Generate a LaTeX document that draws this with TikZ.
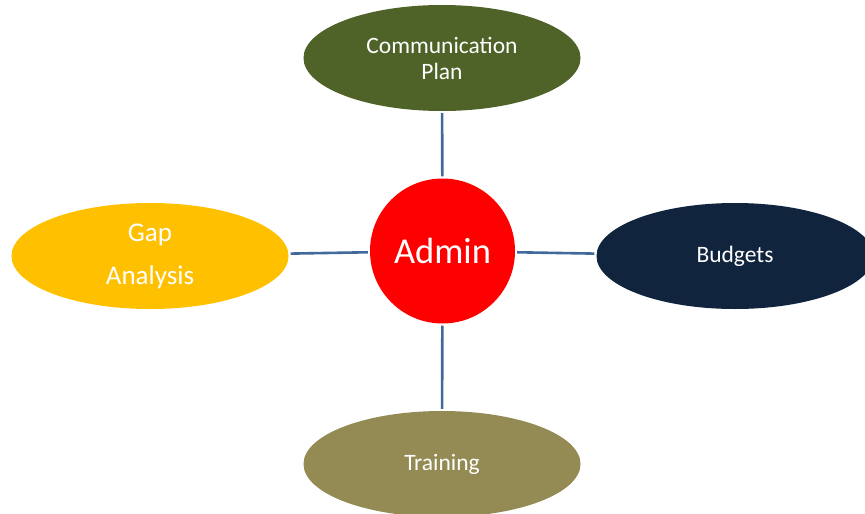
\documentclass[tikz,border=0pt]{standalone}
\usepackage{fontspec}
\setmainfont{Carlito}
\usetikzlibrary{shapes.geometric}
\definecolor{olivetop}{HTML}{4F6228}
\definecolor{gold}{HTML}{FFC000}
\definecolor{navy}{HTML}{10243E}
\definecolor{khaki}{HTML}{948A54}
\definecolor{linkblue}{HTML}{41699C}
\tikzset{
  bubble/.style={ellipse, inner sep=0pt, minimum width=277pt, minimum height=106pt,
    text=white, align=center, font=\fontsize{23.5}{26}\selectfont},
  hub/.style={circle, fill=red, inner sep=0pt, minimum size=145pt, text=white,
    font=\fontsize{36.5}{40}\selectfont},
  link/.style={draw=linkblue, line width=2.6pt, shorten >=2pt, shorten <=2pt}
}
\begin{document}
\begin{tikzpicture}[x=1pt,y=-1pt]
\useasboundingbox (0,0) rectangle (865,514);
\node[hub] (admin) at (442.5,251) {Admin};
\node[bubble, fill=olivetop] (comm) at (442,58) {Communication\\Plan};
\node[bubble, fill=gold, font=\fontsize{27}{43}\selectfont] (gap) at (150,256) {Gap\\Analysis};
\node[bubble, fill=navy] (budget) at (735,256) {Budgets};
\node[bubble, fill=khaki] (train) at (442,464) {Training};
\draw[link] (admin) -- (comm);
\draw[link] (admin) -- (gap);
\draw[link] (admin) -- (budget);
\draw[link] (admin) -- (train);
\end{tikzpicture}
\end{document}
